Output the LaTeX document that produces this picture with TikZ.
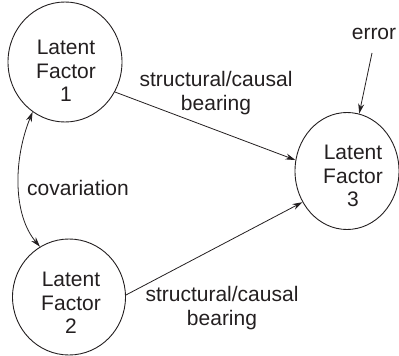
\documentclass[tikz,border=0pt]{standalone}
\usepackage{fontspec}
\setmainfont{Liberation Sans}
\usetikzlibrary{shapes.geometric,arrows.meta}
\definecolor{ink}{HTML}{231F20}
\begin{document}
\begin{tikzpicture}[x=1pt,y=-1pt,
  factor/.style={draw=ink,line width=0.9pt,ellipse,inner sep=0pt},
  txt/.style={text=ink,align=center,font=\fontsize{21}{23.5}\selectfont,inner sep=0pt},
  link/.style={draw=ink,line width=0.8pt,-{Stealth[length=10pt,width=6pt]}},
  cov/.style={draw=ink,line width=0.8pt,{Stealth[length=10pt,width=6pt]}-{Stealth[length=10pt,width=6pt]}}]
  \useasboundingbox (0,0) rectangle (399,356);

  % the three latent factors
  \node[factor,minimum width=114pt,minimum height=120pt] (f1) at (65,62) {};
  \node[factor,minimum width=113pt,minimum height=116pt] (f2) at (69,297) {};
  \node[factor,minimum width=104pt,minimum height=117pt] (f3) at (347,171) {};

  \node[txt] (f1t) at (66,71) {Latent\\Factor\\1};
  \node[txt] (f2t) at (71,303) {Latent\\Factor\\2};
  \node[txt] (f3t) at (353,176) {Latent\\Factor\\3};

  % path labels
  \node[txt] (lab1) at (216,93) {structural/causal\\bearing};
  \node[txt] (lab2) at (222,308) {structural/causal\\bearing};
  \node[txt] (labc) at (78,188) {covariation};
  \node[txt] (err) at (374,34) {error};
  \coordinate (errtail) at (372,53);

  % connectors
  \draw[link] (f1.329) -- (f3.168);
  \draw[link] (f2.2) -- (f3.215);
  \draw[link] (errtail) -- (f3.78);
  \draw[cov] (f1.237) .. controls (13,160) and (13,215) .. (f2.120);
\end{tikzpicture}
\end{document}
